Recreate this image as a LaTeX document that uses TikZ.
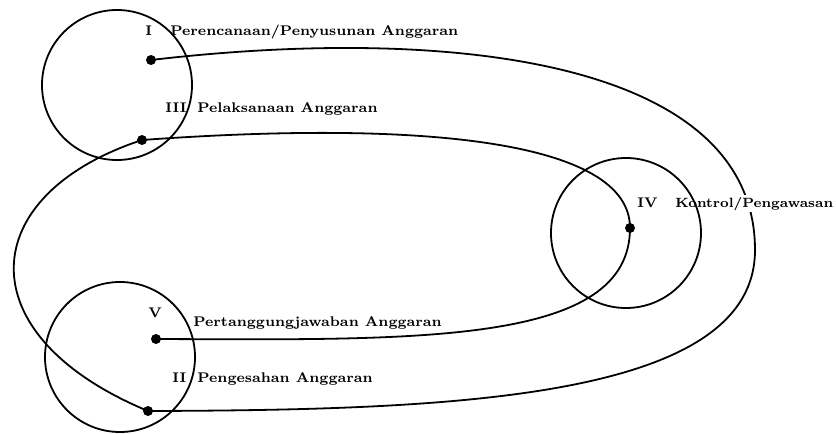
\documentclass[tikz,border=0pt]{standalone}
\usetikzlibrary{positioning}
\tikzset{
  ring/.style={circle,draw,line width=0.9pt,minimum size=75pt,inner sep=0pt},
  dot/.style={circle,fill,inner sep=0pt,minimum size=5pt},
  lbl/.style={anchor=base west,inner sep=0pt,font=\fontsize{7}{8.5}\selectfont\bfseries},
  link/.style={line width=0.9pt},
}
\begin{document}
\begin{tikzpicture}[x=0.5pt,y=-0.5pt]
  \useasboundingbox (0,0) rectangle (836,434);
  % stage points
  \node[dot] (pI) at (151,60) {};
  \node[dot] (pII) at (148,411) {};
  \node[dot] (pIII) at (142,140) {};
  \node[dot] (pIV) at (630,228) {};
  \node[dot] (pV) at (156,339) {};
  \coordinate (rgt) at (755,250);

  % loops between the stages
  \draw[link] (pI.center) .. controls (450,25) and (755,60) .. (rgt)
    .. controls (755,400) and (450,410) .. (pII.center);
  \draw[link] (pIII.center) .. controls (420,120) and (630,140) .. (pIV.center)
    .. controls (630,345) and (420,340) .. (pV.center);
  \draw[link] (pIII.center) .. controls (-25,195) and (-35,335) .. (pII.center);

  % labels
  \node[lbl] (nI) at (145,35) {I};
  \node[lbl] (tI) at (170,35) {Perencanaan/Penyusunan Anggaran};
  \node[lbl] (nIII) at (165,112) {III};
  \node[lbl] (tIII) at (197,112) {Pelaksanaan Anggaran};
  \node[lbl] (nIV) at (637,207) {IV};
  \node[lbl,fill=white,inner sep=1pt,font=\fontsize{6.7}{8}\selectfont\bfseries] (tIV) at (673,207) {Kontrol/Pengawasan};
  \node[lbl] (nV) at (148,317) {V};
  \node[lbl] (tV) at (193,326) {Pertanggungjawaban Anggaran};
  \node[lbl] (nII) at (172,382) {II};
  \node[lbl] (tII) at (197,382) {Pengesahan Anggaran};

  % stage circles
  \node[ring] (cTop) at (117,85) {};
  \node[ring] (cCtrl) at (626,233) {};
  \node[ring] (cBot) at (120,357) {};
\end{tikzpicture}
\end{document}
